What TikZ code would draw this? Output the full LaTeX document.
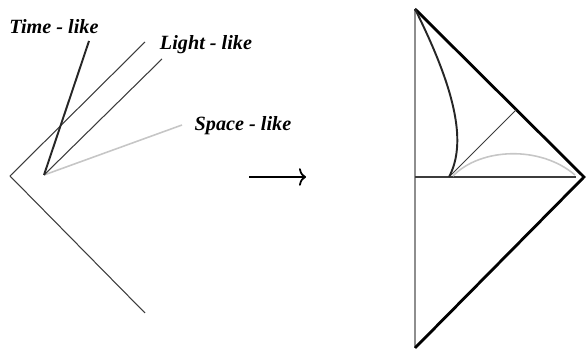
\documentclass[tikz,border=0pt]{standalone}
\usepackage{fontspec}
\setmainfont{Liberation Serif}
\usetikzlibrary{arrows.meta, positioning}
\definecolor{mLine}{HTML}{3C3C3C}
\definecolor{mTime}{HTML}{262626}
\definecolor{mSpace}{HTML}{C6C6C6}
\definecolor{mAxis}{HTML}{8E8E8E}

\begin{document}
\begin{tikzpicture}[x=0.02cm, y=-0.02cm,
    lbl/.style={font=\fontsize{11.5}{13}\selectfont\bfseries\itshape, inner sep=0pt},
    cone/.style={mLine, line width=0.6pt},
    timeline/.style={mTime, line width=1.1pt},
    spaceline/.style={mSpace, line width=0.9pt},
    edge/.style={black, line width=1.6pt, line join=miter}]
    \useasboundingbox (0,0) rectangle (586,351);
    % light cone
    \coordinate (apex) at (10,176);
    \coordinate (fut) at (145,42);
    \coordinate (past) at (145,313);
    \coordinate (ev) at (44,175);
    \coordinate (tEnd) at (89,41);
    \coordinate (lEnd) at (162,59);
    \coordinate (sEnd) at (182,125);
    \draw[cone] (fut) -- (apex) -- (past);
    \draw[spaceline] (ev) -- (sEnd);
    \draw[cone] (ev) -- (lEnd);
    \draw[timeline] (ev) -- (tEnd);
    \node[lbl] (tLbl) at (54,27) {Time - like};
    \node[lbl] (lLbl) at (206,45) {Light - like};
    \node[lbl] (sLbl) at (243,126) {Space - like};
    % map
    \coordinate (aL) at (249,177);
    \coordinate (aR) at (306,177);
    \draw[-{To[length=4pt, width=10pt]}, line width=1pt] (aL) -- (aR);
    % compactified
    \coordinate (top) at (415,9);
    \coordinate (rgt) at (584,177);
    \coordinate (bot) at (415,348);
    \coordinate (orig) at (415,177);
    \coordinate (hEnd) at (576,177);
    \coordinate (pev) at (449,177);
    \coordinate (nEnd) at (516,110);
    \draw[mAxis, line width=1.3pt] (top) -- (bot);
    \draw[mLine, line width=0.9pt] (orig) -- (hEnd);
    \draw[edge] (top) -- (rgt) -- (bot);
    \draw[cone] (pev) -- (nEnd);
    \draw[spaceline] (453,176) .. controls (480,148) and (540,145) .. (575,175);
    \draw[timeline] (pev) .. controls (466,145) and (458,95) .. (top);
\end{tikzpicture}
\end{document}
